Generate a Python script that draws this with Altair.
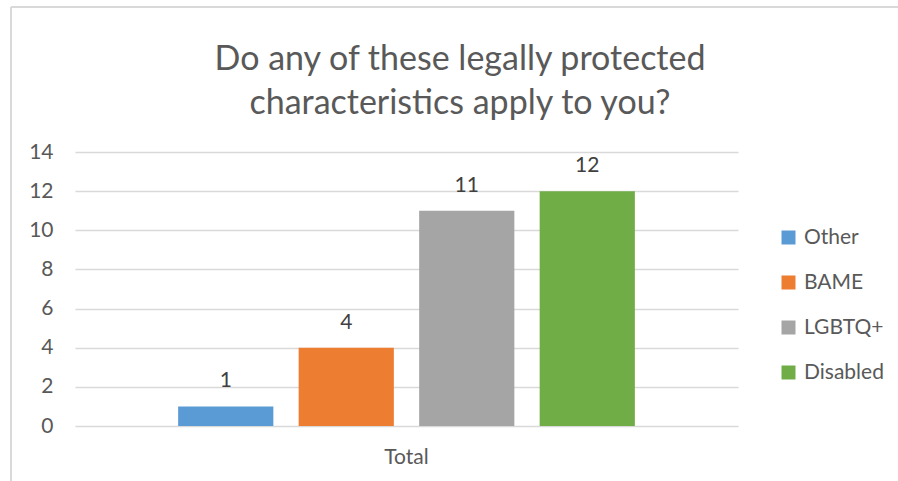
import altair as alt
import pandas as pd

categories = ["Other", "BAME", "LGBTQ+", "Disabled"]
values = [1, 4, 11, 12]
group = ["Total", "Total", "Total", "Total"]
colors = ["#5B9BD5", "#ED7D31", "#A5A5A5", "#70AD47"]
title_lines = ["Do any of these legally protected", "characteristics apply to you?"]

df = pd.DataFrame({"group": group, "series": categories, "value": values})
one = pd.DataFrame({"k": [0]})

FONT = "Lato"
TXT = "#595959"
FS = 21

x_enc = alt.X("group:N", title=None,
              scale=alt.Scale(paddingInner=0, paddingOuter=0.1877),
              axis=alt.Axis(labelAngle=0, labelFontSize=FS, labelColor=TXT, labelFont=FONT,
                            ticks=False, domain=False, labelPadding=20))
xo_enc = alt.XOffset("series:N", sort=categories,
                     scale=alt.Scale(paddingInner=0.21, paddingOuter=0.105))
y_enc = alt.Y("value:Q", title=None,
              scale=alt.Scale(domain=[0, 14], nice=False),
              axis=alt.Axis(values=[0, 2, 4, 6, 8, 10, 12, 14], labelFontSize=FS, labelColor=TXT,
                            labelFont=FONT, ticks=False, domain=False, gridColor="#D9D9D9",
                            gridWidth=1.5, labelPadding=22))

base = alt.Chart(df)

bars = base.mark_bar().encode(
    x=x_enc, xOffset=xo_enc, y=y_enc,
    color=alt.Color("series:N", sort=categories,
                    scale=alt.Scale(domain=categories, range=colors),
                    legend=alt.Legend(title=None, orient="none", legendX=703, legendY=75,
                                      symbolType="square", symbolSize=196, symbolStrokeWidth=0,
                                      labelFontSize=FS, labelColor=TXT, labelFont=FONT,
                                      rowPadding=23, labelOffset=5)),
)

labels = base.mark_text(dy=-25, fontSize=FS, color="#404040", font=FONT).encode(
    x=x_enc, xOffset=xo_enc, y=y_enc, text="value:Q"
)

title = alt.Chart(one).mark_text(
    text=title_lines, fontSize=34, font=FONT, color=TXT, align="center",
    baseline="alphabetic", lineHeight=44,
).encode(x=alt.value(385), y=alt.value(-82))

frame_left = alt.Chart(one).mark_rule(color="#D9D9D9", strokeWidth=2).encode(
    x=alt.value(-64), y=alt.value(-145), y2=alt.value(340)
)
frame_top = alt.Chart(one).mark_rule(color="#D9D9D9", strokeWidth=2).encode(
    x=alt.value(-64), x2=alt.value(900), y=alt.value(-145)
)

chart = alt.layer(bars, labels, title, frame_left, frame_top).properties(
    width=663, height=274,
    autosize=alt.AutoSizeParams(type="none"),
    padding={"left": 75, "top": 152, "right": 160, "bottom": 55},
    background="white",
).configure_view(stroke=None)

chart.save("out.html", embed_options={"renderer": "svg", "actions": False})
